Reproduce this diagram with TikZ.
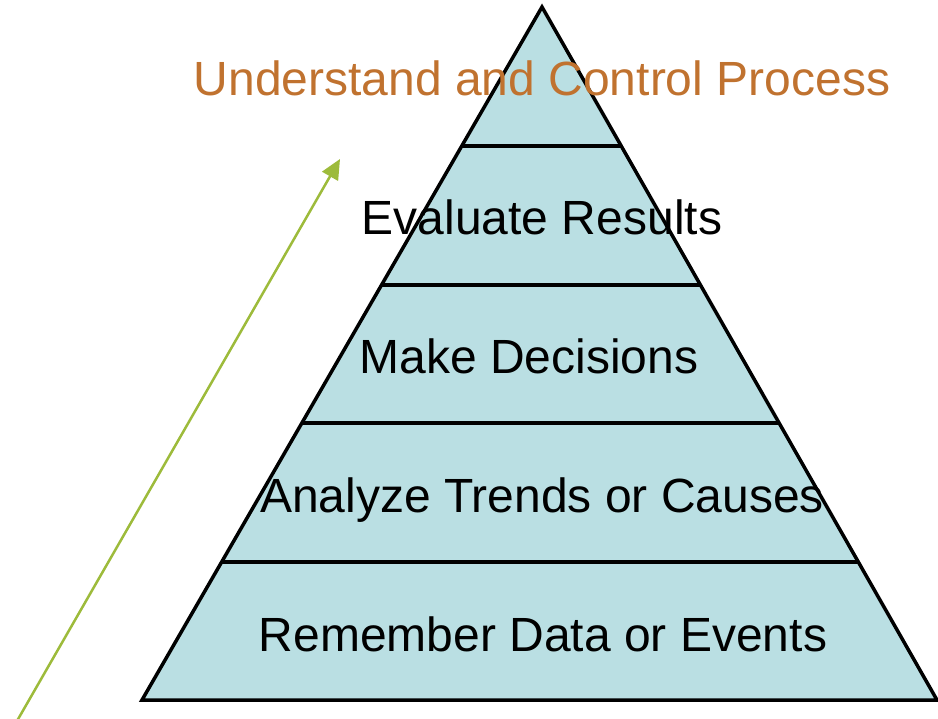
\documentclass[tikz,border=0pt]{standalone}
\usepackage{fontspec}
\setmainfont{Liberation Sans}
\usetikzlibrary{arrows.meta}
\definecolor{pyrfill}{HTML}{BADFE3}
\definecolor{titleorange}{HTML}{C0722F}
\definecolor{arrowgreen}{HTML}{9DBB3B}
\tikzset{
  lbl/.style={anchor=base, inner sep=0pt, font=\fontsize{48}{50}\selectfont},
  band/.style={draw=black, line width=3.5pt},
}
\begin{document}
\begin{tikzpicture}[x=1pt,y=-1pt]
\useasboundingbox (0,0) rectangle (938,719);
\coordinate (apex) at (542,7);
\coordinate (bl) at (142,700);
\coordinate (br) at (937,700);
\fill[pyrfill] (apex) -- (bl) -- (br) -- cycle;
% bands
\foreach \y/\n in {146/a,285/b,423/c,562/d}{
  \path (apex) -- (bl) coordinate[pos={(\y-7)/693}] (l\n);
  \path (apex) -- (br) coordinate[pos={(\y-7)/693}] (r\n);
  \draw[band] (l\n) -- (r\n);
}
\draw[band, line join=miter] (apex) -- (bl) -- (br) -- cycle;
\node[lbl, text=titleorange] (t0) at (542,96) {Understand and Control Process};
\node[lbl] (t1) at (542,235) {Evaluate Results};
\node[lbl] (t2) at (529,374) {Make Decisions};
\node[lbl] (t3) at (542,512) {Analyze Trends or Causes};
\node[lbl] (t4) at (543,651) {Remember Data or Events};
\coordinate (as) at (17,721);
\coordinate (ae) at (340,159);
\draw[arrowgreen, line width=2.5pt, -{Triangle[length=20pt,width=18pt]}] (as) -- (ae);
\end{tikzpicture}
\end{document}
